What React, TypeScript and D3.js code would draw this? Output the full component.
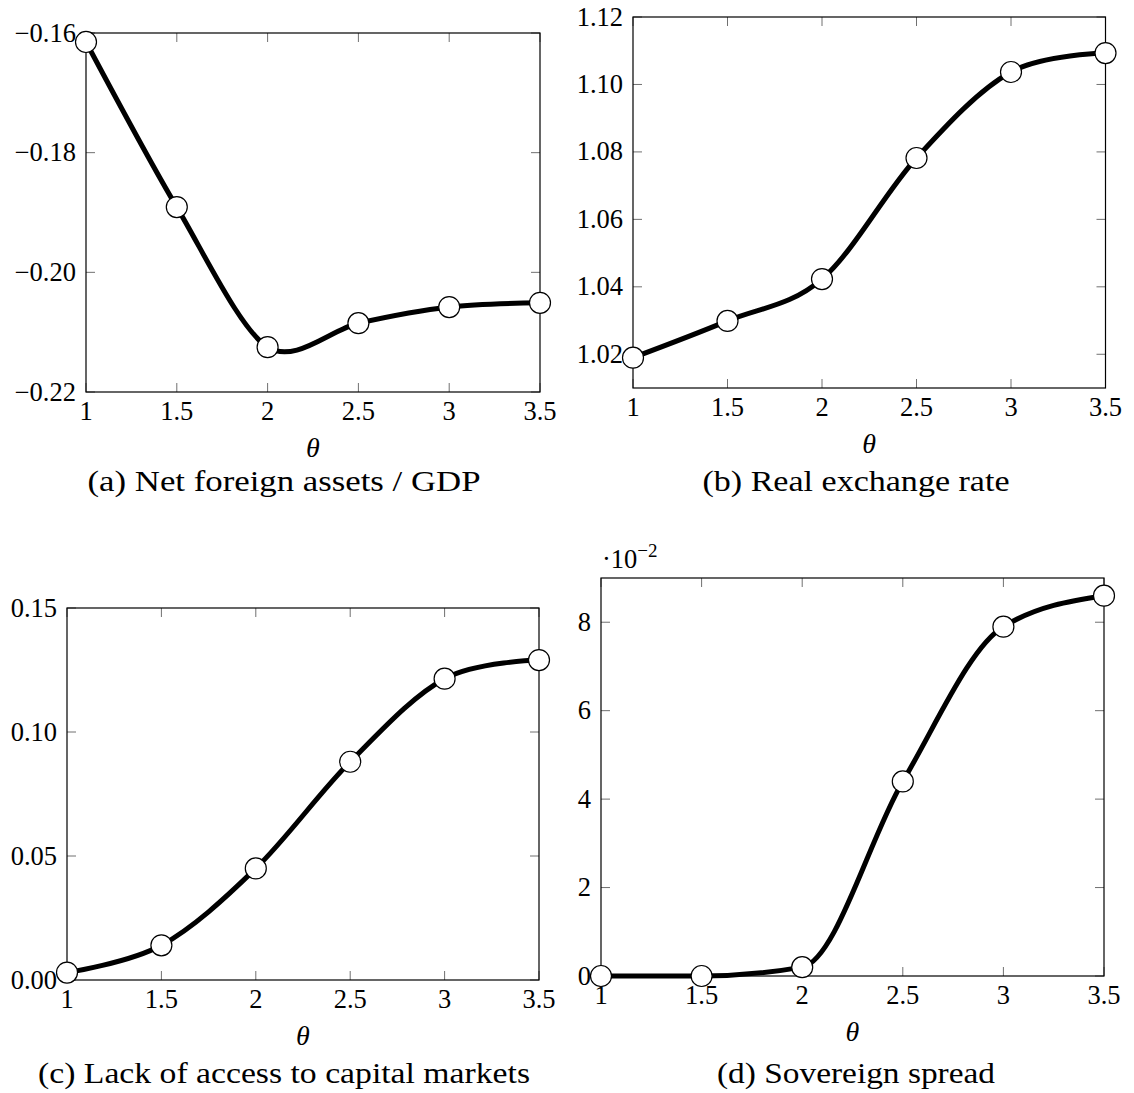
import * as d3 from 'd3';
import { useEffect, useRef } from 'react';

// theta grid shared by all four panels
const thetas = [1, 1.5, 2, 2.5, 3, 3.5];
const xTickLabels = ['1', '1.5', '2', '2.5', '3', '3.5'];

// series
const nfaGdp = [-0.1615, -0.1891, -0.2125, -0.2085, -0.2058, -0.2051];
const realExchange = [1.019, 1.0299, 1.0423, 1.0782, 1.1037, 1.1093];
const noAccess = [0.003, 0.014, 0.045, 0.088, 0.1215, 0.129];
const spread = [0, 0, 0.2, 4.4, 7.9, 8.6]; // in units of 10^-2

// y ticks
const nfaTicks = [-0.22, -0.2, -0.18, -0.16];
const nfaTickLabels = ['\u22120.22', '\u22120.20', '\u22120.18', '\u22120.16'];
const rerTicks = [1.02, 1.04, 1.06, 1.08, 1.1, 1.12];
const rerTickLabels = ['1.02', '1.04', '1.06', '1.08', '1.10', '1.12'];
const accessTicks = [0, 0.05, 0.1, 0.15];
const accessTickLabels = ['0.00', '0.05', '0.10', '0.15'];
const spreadTicks = [0, 2, 4, 6, 8];
const spreadTickLabels = ['0', '2', '4', '6', '8'];

const captions = [
    '(a) Net foreign assets / GDP',
    '(b) Real exchange rate',
    '(c) Lack of access to capital markets',
    '(d) Sovereign spread'
];

export default function App() {

    const ref = useRef(null);

    useEffect(() => {

        const width = 1134;
        const height = 1093;
        const font = "'Liberation Serif', 'DejaVu Serif', serif";
        const fontSize = 26.5;
        const tickLen = 9;

        const panels = [
            { values: nfaGdp, yDomain: [-0.22, -0.16], yTicks: nfaTicks, yLabels: nfaTickLabels,
              box: { left: 86, right: 540, top: 33, bottom: 392 }, caption: captions[0],
              cx: 284, cy: 491, capLen: 393, curve: d3.curveCardinal.tension(0.1) },
            { values: realExchange, yDomain: [1.01, 1.12], yTicks: rerTicks, yLabels: rerTickLabels,
              box: { left: 633, right: 1105.5, top: 17, bottom: 388 }, caption: captions[1],
              cx: 856, cy: 491, capLen: 307, curve: d3.curveCardinal.tension(0) },
            { values: noAccess, yDomain: [0, 0.15], yTicks: accessTicks, yLabels: accessTickLabels,
              box: { left: 67, right: 539, top: 608, bottom: 980 }, caption: captions[2],
              cx: 284, cy: 1083, capLen: 492, curve: d3.curveCardinal.tension(0) },
            { values: spread, yDomain: [0, 9], yTicks: spreadTicks, yLabels: spreadTickLabels,
              box: { left: 601, right: 1104, top: 578, bottom: 976 }, caption: captions[3],
              cx: 856, cy: 1083, capLen: 278, curve: d3.curveMonotoneX, multiplier: true }
        ];

        const svg = d3.select(ref.current);
        svg.selectAll('*').remove();
        svg.attr('width', width).attr('height', height);

        svg.append('rect').attr('width', width).attr('height', height).attr('fill', 'white');

        panels.forEach(p => {
            const { box } = p;
            const g = svg.append('g');

            const xScale = d3.scaleLinear().domain([1, 3.5]).range([box.left, box.right]);
            const yScale = d3.scaleLinear().domain(p.yDomain).range([box.bottom, box.top]);

            // inward ticks on all four sides
            const ticks = g.append('g').attr('stroke', '#707070').attr('stroke-width', 1);
            thetas.forEach(t => {
                ticks.append('line')
                    .attr('x1', xScale(t)).attr('x2', xScale(t))
                    .attr('y1', box.bottom).attr('y2', box.bottom - tickLen);
                ticks.append('line')
                    .attr('x1', xScale(t)).attr('x2', xScale(t))
                    .attr('y1', box.top).attr('y2', box.top + tickLen);
            });
            p.yTicks.forEach(v => {
                ticks.append('line')
                    .attr('x1', box.left).attr('x2', box.left + tickLen)
                    .attr('y1', yScale(v)).attr('y2', yScale(v));
                ticks.append('line')
                    .attr('x1', box.right).attr('x2', box.right - tickLen)
                    .attr('y1', yScale(v)).attr('y2', yScale(v));
            });

            g.append('rect')
                .attr('x', box.left).attr('y', box.top)
                .attr('width', box.right - box.left).attr('height', box.bottom - box.top)
                .attr('fill', 'none').attr('stroke', 'black').attr('stroke-width', 1.2);

            // tick labels
            g.selectAll('text.xlab')
                .data(thetas)
                .join('text')
                .attr('class', 'xlab')
                .attr('font-family', font).attr('font-size', fontSize)
                .attr('text-anchor', 'middle')
                .attr('x', d => xScale(d))
                .attr('y', box.bottom + 28)
                .text((d, i) => xTickLabels[i]);

            g.selectAll('text.ylab')
                .data(p.yTicks)
                .join('text')
                .attr('class', 'ylab')
                .attr('font-family', font).attr('font-size', fontSize)
                .attr('text-anchor', 'end')
                .attr('x', box.left - 10)
                .attr('y', d => yScale(d) + 8.5)
                .text((d, i) => p.yLabels[i]);

            if (p.multiplier) {
                const m = g.append('text')
                    .attr('font-family', font).attr('font-size', fontSize)
                    .attr('x', box.left + 1).attr('y', box.top - 10);
                m.append('tspan').text('\u00b710');
                m.append('tspan').attr('font-size', 19).attr('dy', -11).text('\u22122');
            }

            // axis label and caption
            g.append('text')
                .attr('font-family', font).attr('font-size', 28)
                .attr('font-style', 'italic')
                .attr('text-anchor', 'middle')
                .attr('x', (box.left + box.right) / 2)
                .attr('y', box.bottom + 65)
                .text('\u03b8');

            g.append('text')
                .attr('font-family', font).attr('font-size', 30)
                .attr('text-anchor', 'middle')
                .attr('textLength', p.capLen)
                .attr('lengthAdjust', 'spacingAndGlyphs')
                .attr('x', p.cx)
                .attr('y', p.cy)
                .text(p.caption);

            // smooth line
            const line = d3.line()
                .x((d, i) => xScale(thetas[i]))
                .y(d => yScale(d))
                .curve(p.curve);

            g.append('path')
                .datum(p.values)
                .attr('d', line)
                .attr('fill', 'none')
                .attr('stroke', 'black')
                .attr('stroke-width', 5)
                .attr('stroke-linejoin', 'round');

            g.selectAll('circle')
                .data(p.values)
                .join('circle')
                .attr('cx', (d, i) => xScale(thetas[i]))
                .attr('cy', d => yScale(d))
                .attr('r', 10.5)
                .attr('fill', 'white')
                .attr('stroke', 'black')
                .attr('stroke-width', 1.2);
        });

    }, []);

    return (
        <div style={{ position: 'absolute', left: 0, top: 0 }}>
            <svg ref={ref} style={{ display: 'block' }}></svg>
        </div>
    );
}
